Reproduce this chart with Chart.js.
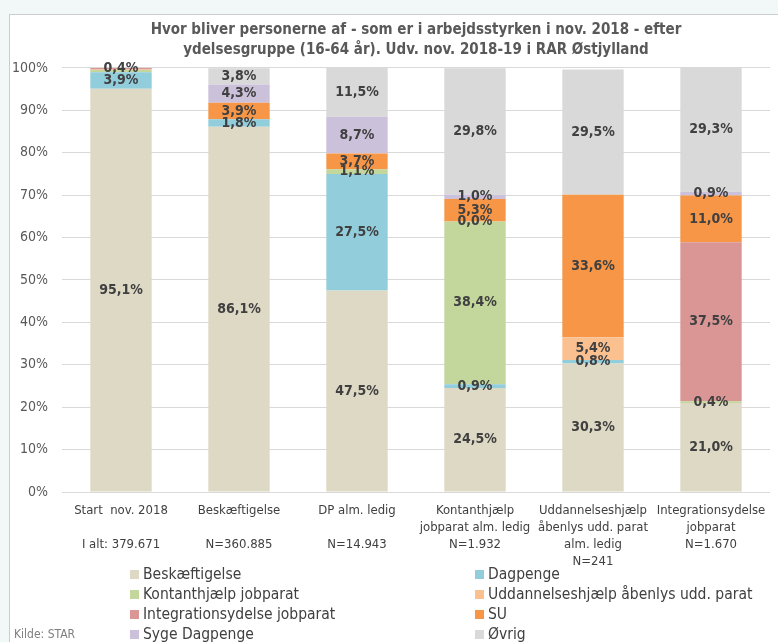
<!DOCTYPE html>
<html>
<head>
<meta charset="utf-8">
<script src="https://cdn.jsdelivr.net/npm/chart.js@4.4.1/dist/chart.umd.min.js"></script>
<style>
  html, body { margin: 0; padding: 0; }
  body { width: 778px; height: 642px; background: #f2f7f8; overflow: hidden; position: relative;
         font-family: "Liberation Sans Narrow", "DejaVu Sans Condensed", sans-serif; }
  #box { position: absolute; left: 9px; top: 14px; width: 780px; height: 640px; background: #fff;
         border-left: 1px solid #c9cdcd; border-top: 1px solid #c9cdcd; }
  #wrap { position: absolute; left: 0; top: 0; width: 769px; height: 560px; }
  #legend { position: absolute; left: 120px; top: 549px; display: grid;
            grid-template-columns: 345px 300px; grid-auto-rows: 20px; }
  .item { display: flex; align-items: center; font-size: 15.5px; color: #404040; white-space: nowrap; }
  .sw { width: 9px; height: 9px; margin-right: 4px; }
  #kilde { position: absolute; left: 4px; top: 612px; font-size: 12px; color: #7f7f7f; }
</style>
</head>
<body>
<div id="box">
  <div id="wrap"><canvas id="chart"></canvas></div>
  <div id="legend"></div>
  <div id="kilde">Kilde: STAR</div>
</div>
<script>
const categories = [
  ["Start  nov. 2018", "", "I alt: 379.671"],
  ["Beskæftigelse", "", "N=360.885"],
  ["DP alm. ledig", "", "N=14.943"],
  ["Kontanthjælp", "jobparat alm. ledig", "N=1.932"],
  ["Uddannelseshjælp", "åbenlys udd. parat", "alm. ledig", "N=241"],
  ["Integrationsydelse", "jobparat", "N=1.670"]
];
const seriesNames = ["Beskæftigelse", "Dagpenge", "Kontanthjælp jobparat",
  "Uddannelseshjælp åbenlys udd. parat", "Integrationsydelse jobparat", "SU",
  "Syge Dagpenge", "Øvrig"];
const colors = ["#ddd9c4", "#92cddc", "#c3d69b", "#fac090", "#d99694", "#f79646", "#ccc1da", "#d9d9d9"];

const beskaeftigelse = [95.1, 86.1, 47.5, 24.5, 30.3, 21.0];
const dagpenge = [3.9, 1.8, 27.5, 0.9, 0.8, null];
const kontanthjaelp = [0.5, null, 1.1, 38.4, null, 0.4];
const uddannelseshjaelp = [0.1, null, null, 0.0, 5.4, null];
const integrationsydelse = [0.4, null, null, null, null, 37.5];
const su = [null, 3.9, 3.7, 5.3, 33.6, 11.0];
const sygeDagpenge = [null, 4.3, 8.7, 1.0, null, 0.9];
const oevrig = [null, 3.8, 11.5, 29.8, 29.5, 29.3];
const yTicks = [0, 10, 20, 30, 40, 50, 60, 70, 80, 90, 100];

// segments without a printed value ("dataset:index")
const unlabeled = ["2:0", "3:0"];

const values = [beskaeftigelse, dagpenge, kontanthjaelp, uddannelseshjaelp,
  integrationsydelse, su, sygeDagpenge, oevrig];

const FONT = "'Liberation Sans Narrow', 'DejaVu Sans Condensed', sans-serif";

const valueLabels = {
  id: "valueLabels",
  afterDatasetsDraw(chart) {
    const ctx = chart.ctx;
    ctx.save();
    ctx.font = "bold 14px " + FONT;
    ctx.fillStyle = "#404040";
    ctx.textAlign = "center";
    ctx.textBaseline = "middle";
    chart.data.datasets.forEach((ds, i) => {
      const meta = chart.getDatasetMeta(i);
      meta.data.forEach((el, j) => {
        const v = ds.data[j];
        if (v === null || unlabeled.includes(i + ":" + j)) return;
        const y = (el.y + el.base) / 2;
        ctx.fillText(v.toFixed(1).replace(".", ",") + "%", el.x, y);
      });
    });
    ctx.restore();
  }
};

const chart = new Chart(document.getElementById("chart"), {
  type: "bar",
  data: {
    labels: categories,
    datasets: values.map((d, i) => ({
      label: seriesNames[i],
      data: d,
      backgroundColor: colors[i],
      borderWidth: 0,
      barPercentage: 0.52,
      categoryPercentage: 1
    }))
  },
  options: {
    responsive: true,
    maintainAspectRatio: false,
    animation: false,
    layout: { padding: { top: 0, right: 9, bottom: 0, left: 0 } },
    plugins: {
      legend: { display: false },
      tooltip: { enabled: false },
      title: {
        display: true,
        fullSize: false,
        text: ["Hvor bliver personerne af - som er i arbejdsstyrken i nov. 2018 - efter",
               "ydelsesgruppe (16-64 år). Udv. nov. 2018-19 i RAR Østjylland"],
        color: "#595959",
        font: { family: FONT, size: 15, weight: "bold", lineHeight: 1.33 },
        padding: { top: 5, bottom: 8 }
      }
    },
    scales: {
      x: {
        stacked: true,
        grid: { display: false },
        border: { display: false },
        ticks: {
          color: "#404040",
          font: { family: FONT, size: 13, lineHeight: "17px" },
          maxRotation: 0,
          autoSkip: false,
          padding: 2
        },
        afterFit(s) { s.height = 83; }
      },
      y: {
        stacked: true,
        min: 0,
        max: 100,
        afterBuildTicks(s) { s.ticks = yTicks.map(v => ({ value: v })); },
        grid: { color: "#d9d9d9", drawTicks: false },
        border: { display: false },
        ticks: {
          color: "#595959",
          font: { family: FONT, size: 14 },
          padding: 14,
          callback: v => v + "%"
        },
        afterFit(s) { s.width = 52; }
      }
    }
  },
  plugins: [valueLabels]
});

const legend = document.getElementById("legend");
chart.data.datasets.forEach(ds => {
  const item = document.createElement("div");
  item.className = "item";
  const sw = document.createElement("span");
  sw.className = "sw";
  sw.style.background = ds.backgroundColor;
  item.appendChild(sw);
  item.appendChild(document.createTextNode(ds.label));
  legend.appendChild(item);
});
</script>
</body>
</html>
